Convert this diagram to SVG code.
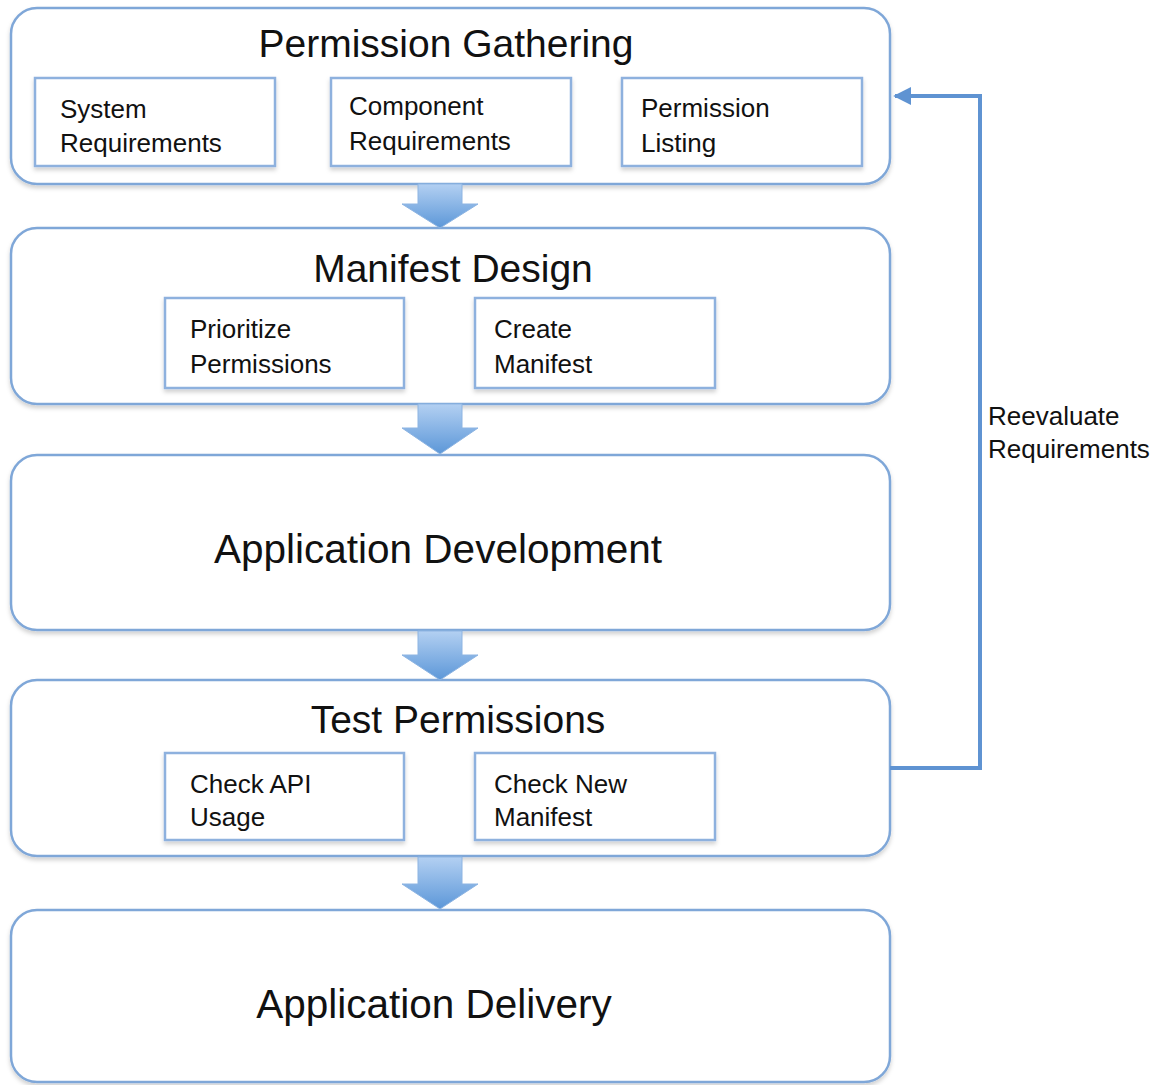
<svg xmlns="http://www.w3.org/2000/svg" width="1157" height="1085" viewBox="0 0 1157 1085">
<style>
.outer{fill:#fff;stroke:#7fa7d8;stroke-width:2.5}
.inner{fill:#fff;stroke:#8eb1de;stroke-width:2.5}
.title{font-family:"Liberation Sans",Arial,sans-serif;font-size:39px;fill:#111}
.big{font-size:40.5px}
.lbl{font-family:"Liberation Sans",Arial,sans-serif;font-size:26px;fill:#111}
.blk{fill:url(#bg);stroke:#8db4e2;stroke-width:1}
.conn{fill:none;stroke:#5f93d2;stroke-width:4}
</style>
<defs>
<linearGradient id="bg" x1="0" y1="0" x2="0" y2="1">
<stop offset="0" stop-color="#b3d0f2"/>
<stop offset="1" stop-color="#5c97d8"/>
</linearGradient>
<filter id="sh" x="-5%" y="-5%" width="110%" height="115%">
<feDropShadow dx="0" dy="3" stdDeviation="2" flood-color="#000" flood-opacity="0.18"/>
</filter>
<marker id="ah" viewBox="0 0 10 10" refX="9" refY="5" markerWidth="4.5" markerHeight="4.5" orient="auto" markerUnits="strokeWidth">
<path d="M0,0 L10,5 L0,10 z" fill="#5f93d2"/>
</marker>
</defs>

<g id="permission-gathering">
<rect class="outer" x="11" y="8" width="879" height="176" rx="26" filter="url(#sh)"/>
<text class="title" x="446" y="57" text-anchor="middle">Permission Gathering</text>
<g id="system-requirements">
<rect class="inner" x="35" y="78" width="240" height="88" filter="url(#sh)"/>
<text class="lbl" x="60" y="118">System</text>
<text class="lbl" x="60" y="152">Requirements</text>
</g>
<g id="component-requirements">
<rect class="inner" x="331" y="78" width="240" height="88" filter="url(#sh)"/>
<text class="lbl" x="349" y="115">Component</text>
<text class="lbl" x="349" y="150">Requirements</text>
</g>
<g id="permission-listing">
<rect class="inner" x="622" y="78" width="240" height="88" filter="url(#sh)"/>
<text class="lbl" x="641" y="117">Permission</text>
<text class="lbl" x="641" y="152">Listing</text>
</g>
</g>

<g id="manifest-design">
<rect class="outer" x="11" y="228" width="879" height="176" rx="26" filter="url(#sh)"/>
<text class="title" x="453" y="282" text-anchor="middle">Manifest Design</text>
<g id="prioritize-permissions">
<rect class="inner" x="165" y="298" width="239" height="90" filter="url(#sh)"/>
<text class="lbl" x="190" y="338">Prioritize</text>
<text class="lbl" x="190" y="373">Permissions</text>
</g>
<g id="create-manifest">
<rect class="inner" x="475" y="298" width="240" height="90" filter="url(#sh)"/>
<text class="lbl" x="494" y="338">Create</text>
<text class="lbl" x="494" y="373">Manifest</text>
</g>
</g>

<g id="application-development">
<rect class="outer" x="11" y="455" width="879" height="175" rx="26" filter="url(#sh)"/>
<text class="title big" x="438" y="563" text-anchor="middle">Application Development</text>
</g>

<g id="test-permissions">
<rect class="outer" x="11" y="680" width="879" height="176" rx="26" filter="url(#sh)"/>
<text class="title" x="458" y="733" text-anchor="middle">Test Permissions</text>
<g id="check-api-usage">
<rect class="inner" x="165" y="753" width="239" height="87" filter="url(#sh)"/>
<text class="lbl" x="190" y="793">Check API</text>
<text class="lbl" x="190" y="826">Usage</text>
</g>
<g id="check-new-manifest">
<rect class="inner" x="475" y="753" width="240" height="87" filter="url(#sh)"/>
<text class="lbl" x="494" y="793">Check New</text>
<text class="lbl" x="494" y="826">Manifest</text>
</g>
</g>

<g id="application-delivery">
<rect class="outer" x="11" y="910" width="879" height="172" rx="26" filter="url(#sh)"/>
<text class="title big" x="434" y="1018" text-anchor="middle">Application Delivery</text>
</g>

<g id="connectors">
<path class="blk" d="M418,184 H462 V204 H478 L440,228 L402,204 H418 Z"/>
<path class="blk" d="M418,404 H462 V428 H478 L440,454 L402,428 H418 Z"/>
<path class="blk" d="M418,631 H462 V655 H478 L440,680 L402,655 H418 Z"/>
<path class="blk" d="M418,857 H462 V884 H478 L440,909 L402,884 H418 Z"/>
<path class="conn" d="M890,768 H980 V96 H895" marker-end="url(#ah)"/>
<text class="lbl" x="988" y="425">Reevaluate</text>
<text class="lbl" x="988" y="458">Requirements</text>
</g>
</svg>
